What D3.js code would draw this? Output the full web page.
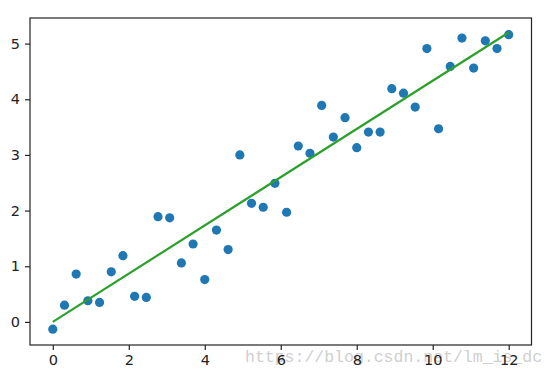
<!DOCTYPE html>
<html><head><meta charset="utf-8">
<script src="https://cdn.jsdelivr.net/npm/d3@7"></script>
<style>html,body{margin:0;padding:0;background:#fff;}svg{display:block;}</style>
</head><body>
<svg id="chart" width="556" height="378"></svg>
<script>
const xValues = d3.range(40).map(i => i * 12 / 39);
const yValues = [-0.13, 0.30, 0.86, 0.38, 0.35, 0.90, 1.19, 0.46, 0.44, 1.89,
                 1.87, 1.06, 1.40, 0.76, 1.65, 1.30, 3.00, 2.13, 2.06, 2.49,
                 1.97, 3.16, 3.03, 3.89, 3.32, 3.67, 3.13, 3.41, 3.41, 4.19,
                 4.11, 3.86, 4.91, 3.47, 4.59, 5.10, 4.56, 5.05, 4.91, 5.16];
const lineX = [0, 12];
const lineY = [0, 5.2];
const xTicks = [0, 2, 4, 6, 8, 10, 12];
const yTicks = [0, 1, 2, 3, 4, 5];
const watermark = "https://blog.csdn.net/lm_is_dc";

const svg = d3.select("#chart");
const L = 30, R = 531.5, T = 18, B = 345;
const x = d3.scaleLinear().domain([-0.6, 12.6]).range([L, R]);
const y = d3.scaleLinear().domain([-0.415, 5.46]).range([B, T]);

// watermark behind
svg.append("text").attr("x", 245).attr("y", 362)
  .attr("font-family", "Liberation Mono, monospace").attr("font-size", 16.5)
  .attr("fill", "#cfcfcf").text(watermark);

// points
svg.append("g").selectAll("circle").data(xValues).join("circle")
  .attr("cx", (d) => x(d)).attr("cy", (d, i) => y(yValues[i]))
  .attr("r", 4.6).attr("fill", "#1f77b4");

// fitted line
svg.append("path").datum(lineX.map((d, i) => [d, lineY[i]]))
  .attr("d", d3.line().x(d => x(d[0])).y(d => y(d[1])))
  .attr("stroke", "#2ca02c").attr("stroke-width", 2.2).attr("fill", "none");

// frame
svg.append("rect").attr("x", L).attr("y", T).attr("width", R - L).attr("height", B - T)
  .attr("fill", "none").attr("stroke", "#222").attr("stroke-width", 1.2);

const fontFam = "DejaVu Sans, sans-serif";
const xAxis = svg.append("g").attr("transform", `translate(0,${B})`)
  .call(d3.axisBottom(x).tickValues(xTicks).tickSize(5).tickPadding(5).tickFormat(d3.format("d")));
const yAxis = svg.append("g").attr("transform", `translate(${L},0)`)
  .call(d3.axisLeft(y).tickValues(yTicks).tickSize(5).tickPadding(5).tickFormat(d3.format("d")));
[xAxis, yAxis].forEach(a => {
  a.select(".domain").remove();
  a.selectAll(".tick line").attr("stroke", "#222").attr("stroke-width", 1.2);
  a.selectAll(".tick text").attr("font-family", fontFam).attr("font-size", 14.5).attr("fill", "#222");
});
</script>
</body></html>
